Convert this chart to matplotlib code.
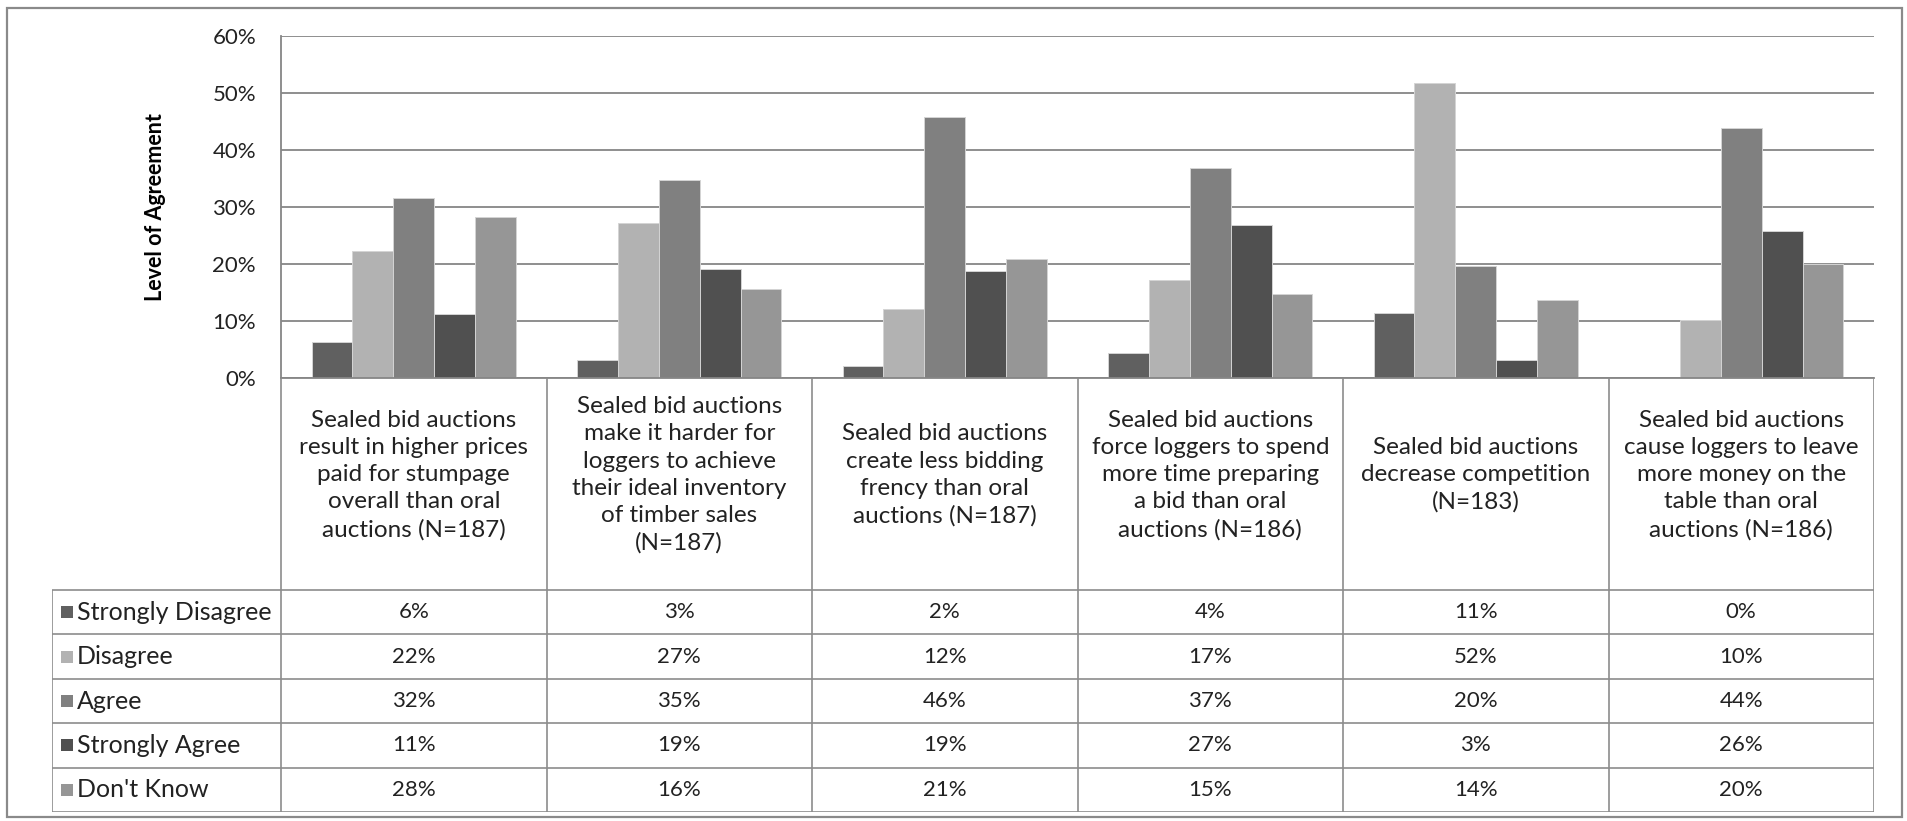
import matplotlib
matplotlib.use("Agg")
import matplotlib.pyplot as plt
from matplotlib.patches import Rectangle
from matplotlib.ticker import PercentFormatter

plt.rcParams["font.family"] = ["Lato", "DejaVu Sans"]

# ---- data -------------------------------------------------------------
categories = [
    "Sealed bid auctions\nresult in higher prices\npaid for stumpage\noverall than oral\nauctions (N=187)",
    "Sealed bid auctions\nmake it harder for\nloggers to achieve\ntheir ideal inventory\nof timber sales\n(N=187)",
    "Sealed bid auctions\ncreate less bidding\nfrency than oral\nauctions (N=187)",
    "Sealed bid auctions\nforce loggers to spend\nmore time preparing\na bid than oral\nauctions (N=186)",
    "Sealed bid auctions\ndecrease competition\n(N=183)",
    "Sealed bid auctions\ncause loggers to leave\nmore money on the\ntable than oral\nauctions (N=186)",
]
series_names = ["Strongly Disagree", "Disagree", "Agree", "Strongly Agree", "Don't Know"]
strongly_disagree = [0.064, 0.032, 0.021, 0.044, 0.114, 0.0]
disagree = [0.224, 0.273, 0.122, 0.173, 0.519, 0.102]
agree = [0.316, 0.348, 0.459, 0.369, 0.196, 0.440]
strongly_agree = [0.113, 0.192, 0.188, 0.269, 0.032, 0.258]
dont_know = [0.282, 0.156, 0.209, 0.147, 0.137, 0.201]
y_ticks = [0.0, 0.1, 0.2, 0.3, 0.4, 0.5, 0.6]
y_label = "Level of Agreement"

series_values = [strongly_disagree, disagree, agree, strongly_agree, dont_know]
series_colors = ["#606060", "#b2b2b2", "#808080", "#505050", "#969696"]

# ---- layout (pixels) --------------------------------------------------
W, H = 1908, 821
DPI = 100
plot_left, plot_right = 281, 1874
plot_top, plot_bottom = 36.5, 378
table_left = 52
row_top = 590
row_h = 44.4
n_rows = len(series_names)
table_bottom = row_top + n_rows * row_h

line_col = "#8c8c8c"
text_col = "#222222"
fs_num = 16
fs_cat = 17.5
fs_row = 18

fig = plt.figure(figsize=(W / DPI, H / DPI), dpi=DPI)
fig.patch.set_facecolor("white")

# ---- bar chart --------------------------------------------------------
ax = fig.add_axes([plot_left / W, 1 - plot_bottom / H,
                   (plot_right - plot_left) / W, (plot_bottom - plot_top) / H])
n_cat = len(categories)
n_ser = len(series_names)
bar_w = 1 / (n_ser + 1.5)
for i, (vals, col) in enumerate(zip(series_values, series_colors)):
    xs = [c + (i - (n_ser - 1) / 2) * bar_w for c in range(n_cat)]
    ax.bar(xs, vals, width=bar_w, color=col, edgecolor="#d4d4d4",
           linewidth=0.7, zorder=3)

ax.set_xlim(-0.5, n_cat - 0.5)
ax.set_ylim(y_ticks[0], y_ticks[-1])
ax.set_yticks(y_ticks)
ax.yaxis.set_major_formatter(PercentFormatter(1.0, decimals=0))
ax.set_xticks([])
ax.tick_params(axis="y", length=0, pad=18, labelsize=fs_num, labelcolor=text_col)
ax.yaxis.grid(True, color="#868686", linewidth=1.3, zorder=0)
for side in ("top", "right"):
    ax.spines[side].set_visible(False)
for side in ("left", "bottom"):
    ax.spines[side].set_color("#868686")
    ax.spines[side].set_linewidth(1.3)
    ax.spines[side].set_zorder(4)

fig.text(156 / W, 1 - (plot_top + plot_bottom) / 2 / H, y_label,
         rotation=90, ha="center", va="center", fontsize=15.5,
         fontweight="bold", color="black")

# ---- data table -------------------------------------------------------
unit = (plot_right - plot_left) / n_cat
x_min = -0.5 - (plot_left - table_left) / unit
tab = fig.add_axes([table_left / W, 1 - table_bottom / H,
                    (plot_right - table_left) / W,
                    (table_bottom - plot_bottom) / H])
tab.set_xlim(x_min, n_cat - 0.5)
tab.set_ylim(table_bottom, plot_bottom)
tab.axis("off")

lw = 1.2
# column separators
for k in range(n_cat + 1):
    tab.plot([k - 0.5, k - 0.5], [plot_bottom, table_bottom],
             color=line_col, lw=lw, solid_capstyle="butt")
tab.plot([x_min, x_min], [row_top, table_bottom], color=line_col, lw=lw,
         solid_capstyle="butt")
for r in range(n_rows + 1):
    y = row_top + r * row_h
    tab.plot([x_min, n_cat - 0.5], [y, y], color=line_col, lw=lw,
             solid_capstyle="butt")

# category headers
header_center = (plot_bottom + row_top) / 2 - 9
for c, label in enumerate(categories):
    tab.text(c, header_center, label, ha="center", va="center",
             fontsize=fs_cat, color=text_col, linespacing=1.36,
             multialignment="center")

# row labels with legend keys and values
px = 1 / unit
for r, (name, vals, col) in enumerate(zip(series_names, series_values, series_colors)):
    yc = row_top + (r + 0.5) * row_h
    tab.add_patch(Rectangle((x_min + 9 * px, yc - 6), 12 * px, 12,
                            facecolor=col, edgecolor="none"))
    tab.text(x_min + 25 * px, yc, name, ha="left", va="center",
             fontsize=fs_row, color=text_col)
    for c, v in enumerate(vals):
        tab.text(c, yc, f"{v:.0%}", ha="center", va="center",
                 fontsize=fs_num, color=text_col)

# chart frame
fig.add_artist(Rectangle((7 / W, 1 - 817 / H), (1902 - 7) / W, (817 - 8) / H,
                         transform=fig.transFigure, fill=False,
                         edgecolor="#8a8a8a", linewidth=1.6))

fig.savefig("out.png", dpi=DPI, facecolor="white")
